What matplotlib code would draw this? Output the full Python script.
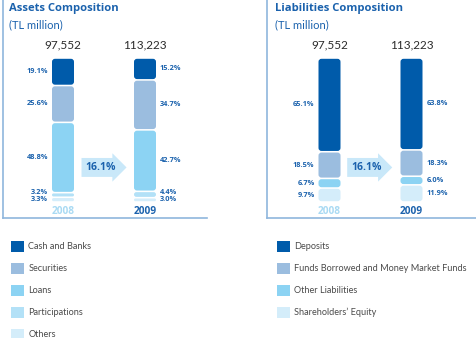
import matplotlib
matplotlib.use('Agg')
import matplotlib.pyplot as plt
from matplotlib.patches import FancyBboxPatch, Patch
from matplotlib.lines import Line2D

# data
years = ['2008', '2009']
asset_totals = ['97,552', '113,223']
liab_totals = ['97,552', '113,223']
growth = '16.1%'

asset_names = ['Cash and Banks', 'Securities', 'Loans', 'Participations', 'Others']
asset_2008 = [19.1, 25.6, 48.8, 3.2, 3.3]
asset_2009 = [15.2, 34.7, 42.7, 4.4, 3.0]

liab_names = ['Deposits', 'Funds Borrowed and Money Market Funds',
              'Other Liabilities', 'Shareholders\u2019 Equity']
liab_2008 = [65.1, 18.5, 6.7, 9.7]
liab_2009 = [63.8, 18.3, 6.0, 11.9]

asset_colors = ['#005baa', '#9bbddf', '#8cd3f3', '#b3e1f7', '#d4edfa']
liab_colors = ['#005baa', '#9bbddf', '#8cd3f3', '#d4edfa']

W, H = 477, 338
BLUE = '#1b62ad'
FRAME = '#8fb6dd'
OPEN = ['Open Sans', 'DejaVu Sans']
LATO = ['Lato', 'DejaVu Sans']
plt.rcParams['font.family'] = LATO

fig = plt.figure(figsize=(W / 100, H / 100), dpi=100)


def fx(px):
    return px / W


def fy(py):
    return 1 - py / H


PX_X = 82.0      # pixels per x unit
PX_Y = 1.44      # pixels per percent
GAP = 1.6        # white gap between segments, px


def draw_panel(ax, values, colors, totals, arrow_x):
    ax.set_ylim(0, 100)
    ax.axis('off')
    for i, vals in enumerate(values):
        bottom = 0
        prev_label = -100
        for v, c in reversed(list(zip(vals, colors))):
            bar = ax.bar(i, v, width=22 / PX_X, bottom=bottom, color=c)[0]
            bar.set_visible(False)
            gap = GAP / PX_Y
            r = min(3.0, (v * PX_Y - GAP) / 2) / PX_X
            ax.add_patch(FancyBboxPatch(
                (bar.get_x(), bar.get_y() + gap / 2), bar.get_width(),
                bar.get_height() - gap,
                boxstyle='round,pad=0,rounding_size=%f' % r,
                mutation_aspect=PX_X / PX_Y, fc=c, ec='none'))
            # keep small labels apart
            ly = max(bottom + v / 2, prev_label + 7.5 / PX_Y)
            prev_label = ly
            if i == 0:
                ax.text(i - 0.134 - 4 / PX_X, ly, '%.1f%%' % v, ha='right',
                        va='center', fontsize=5.3, fontweight='bold', color=BLUE,
                        family=OPEN)
            else:
                ax.text(i + 0.134 + 4 / PX_X, ly, '%.1f%%' % v, ha='left',
                        va='center', fontsize=5.3, fontweight='bold', color=BLUE,
                        family=OPEN)
            bottom += v
        ax.text(i, 100 + 13 / PX_Y, totals[i], ha='center', va='center',
                fontsize=8.5, color='#2b2b2b')
    ax.text(0, -9 / PX_Y, years[0], ha='center', va='center', fontsize=7.3,
            fontweight='bold', color='#a9daf3', family=OPEN)
    ax.text(1, -9 / PX_Y, years[1], ha='center', va='center', fontsize=7.3,
            fontweight='bold', color=BLUE, family=OPEN)
    ax.text(arrow_x, 24, growth, ha='center', va='center', fontsize=7.5,
            fontweight='bold', color=BLUE, family=OPEN,
            bbox=dict(boxstyle='rarrow,pad=0.38', fc='#c9e8f9', ec='none'))


ax1 = fig.add_axes([fx(0), fy(202), fx(207), 144 / H])
ax1.set_xlim(-63 / PX_X, (207 - 63) / PX_X)
draw_panel(ax1, [asset_2008, asset_2009], asset_colors, asset_totals, 0.46)

ax2 = fig.add_axes([fx(267), fy(202), fx(210), 144 / H])
ax2.set_xlim((267 - 329.5) / PX_X, (477 - 329.5) / PX_X)
draw_panel(ax2, [liab_2008, liab_2009], liab_colors, liab_totals, 0.45)

# panel frames
for x0, x1 in [(2.5, 207), (267.5, 477)]:
    fig.add_artist(Line2D([fx(x0), fx(x0)], [fy(0), fy(218)], color=FRAME, lw=1.2))
    fig.add_artist(Line2D([fx(x0), fx(x1)], [fy(218), fy(218)], color=FRAME, lw=1.2))

# titles
for x, title in [(9, 'Assets Composition'), (275, 'Liabilities Composition')]:
    fig.text(fx(x), fy(8), title, fontsize=8.1, fontweight='bold',
             color=BLUE, va='center', family=OPEN)
    fig.text(fx(x), fy(25), '(TL million)', fontsize=8, color=BLUE, va='center')

# legends
for names, colors, x in [(asset_names, asset_colors, 11), (liab_names, liab_colors, 277)]:
    handles = [Patch(fc=c, ec='none', label=n) for n, c in zip(names, colors)]
    fig.legend(handles=handles, loc='upper left', bbox_to_anchor=(fx(x), fy(241)),
               frameon=False, fontsize=6.6, handlelength=1.45, handleheight=1.45,
               labelspacing=1.2, handletextpad=0.45, borderpad=0, borderaxespad=0,
               labelcolor='#4a4a4a')

fig.savefig('out.png', dpi=100)
